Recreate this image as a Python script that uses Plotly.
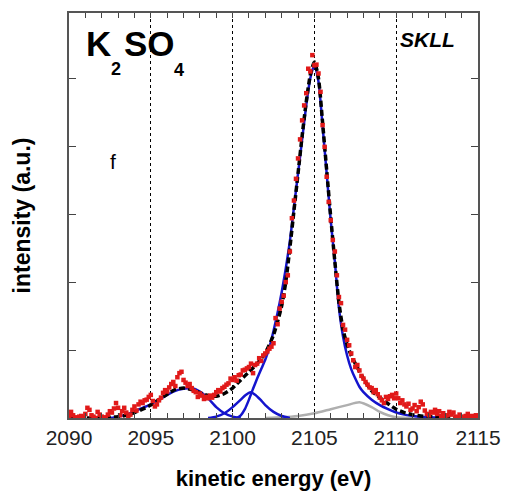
import numpy as np
import plotly.graph_objects as go

# ---------------- data ----------------
energy_data = np.round(np.arange(2090.0, 2115.0001, 0.125), 3)
intensity_data = [
    0.03, 0.09, 0.04, 0.01, 0.00, 0.02, 0.03, 0.01,   # 2090
    0.06, 0.15, 0.12, 0.04, 0.02, 0.00, 0.09, 0.05,   # 2091
    0.02, 0.00, 0.01, 0.05, 0.10, 0.08, 0.14, 0.22,   # 2092
    0.15, 0.04, 0.10, 0.15, 0.08, 0.02, 0.05, 0.12,   # 2093
    0.17, 0.11, 0.20, 0.24, 0.22, 0.26, 0.27, 0.31,   # 2094
    0.34, 0.25, 0.17, 0.20, 0.26, 0.30, 0.37, 0.41,   # 2095
    0.39, 0.45, 0.50, 0.53, 0.47, 0.60, 0.66, 0.68,   # 2096
    0.56, 0.52, 0.47, 0.50, 0.44, 0.40, 0.38, 0.31,   # 2097
    0.36, 0.33, 0.28, 0.31, 0.29, 0.33, 0.30, 0.34,   # 2098
    0.38, 0.41, 0.39, 0.44, 0.46, 0.49, 0.51, 0.58,   # 2099
    0.56, 0.60, 0.55, 0.63, 0.64, 0.70, 0.71, 0.73,   # 2100
    0.75, 0.80, 0.66, 0.78, 0.80, 0.88, 0.84, 0.92,   # 2101
    0.95, 0.98, 1.02, 1.05, 1.10, 1.47, 1.38, 1.61,   # 2102
    1.71, 1.80, 2.00, 2.10, 2.45, 2.94, 3.20, 3.52,   # 2103
    3.82, 4.10, 4.38, 4.60, 4.78, 5.14, 5.10, 5.34,   # 2104
    5.19, 5.20, 5.07, 4.80, 4.31, 3.99, 3.55, 3.18,   # 2105
    2.91, 2.62, 2.45, 2.10, 1.78, 1.69, 1.37, 1.30,   # 2106
    1.15, 1.07, 0.95, 0.85, 0.75, 0.78, 0.70, 0.62,   # 2107
    0.58, 0.53, 0.49, 0.45, 0.44, 0.38, 0.41, 0.35,   # 2108
    0.30, 0.26, 0.22, 0.31, 0.28, 0.32, 0.34, 0.29,   # 2109
    0.36, 0.29, 0.22, 0.26, 0.20, 0.17, 0.21, 0.12,   # 2110
    0.14, 0.19, 0.10, 0.16, 0.24, 0.20, 0.11, 0.06,   # 2111
    0.04, 0.09, 0.08, 0.12, 0.06, 0.10, 0.03, 0.07,   # 2112
    0.02, 0.04, 0.09, 0.05, 0.08, 0.02, 0.01, 0.05,   # 2113
    0.02, 0.00, 0.03, 0.06, 0.02, 0.03, 0.01, 0.04,   # 2114
    0.01,                                             # 2115
]

peak1_x = [2092.5, 2093.0, 2093.5, 2094.0, 2094.5, 2095.0, 2095.5, 2096.0, 2096.5,
           2097.0, 2097.5, 2098.0, 2098.5, 2099.0, 2099.5, 2100.0, 2100.5]
peak1_y = [0.00, 0.02, 0.05, 0.10, 0.15, 0.20, 0.27, 0.34, 0.40,
           0.43, 0.44, 0.39, 0.29, 0.16, 0.07, 0.02, 0.00]

peak2_x = [2098.5, 2099.0, 2099.5, 2100.0, 2100.5, 2100.8, 2101.1, 2101.4, 2101.7, 2102.0, 2102.5, 2103.0, 2103.5]
peak2_y = [0.00, 0.02, 0.07, 0.16, 0.27, 0.34, 0.38, 0.34, 0.27, 0.19, 0.09, 0.03, 0.00]

main_x = [2100.25, 2100.5, 2100.75, 2101.0, 2101.25, 2101.5, 2101.75, 2102.0, 2102.25, 2102.5, 2102.75,
          2103.0, 2103.25, 2103.5, 2103.75, 2104.0, 2104.25, 2104.5, 2104.75, 2105.0, 2105.25,
          2105.5, 2105.75, 2106.0, 2106.25, 2106.5, 2106.75, 2107.0, 2107.25, 2107.5, 2107.75,
          2108.0, 2108.5, 2109.0, 2109.5, 2110.0, 2110.5, 2111.0, 2112.0, 2113.0]
main_y = [0.00, 0.04, 0.13, 0.27, 0.43, 0.58, 0.72, 0.86, 1.04, 1.28, 1.55,
          1.85, 2.20, 2.60, 3.10, 3.60, 4.10, 4.60, 5.00, 5.20, 4.95,
          4.30, 3.60, 2.90, 2.30, 1.62, 1.20, 0.92, 0.72, 0.58, 0.46,
          0.38, 0.27, 0.19, 0.13, 0.08, 0.05, 0.03, 0.01, 0.00]

gray_x = [2102.0, 2103.0, 2104.0, 2105.0, 2106.0, 2107.0, 2107.75, 2108.5, 2109.0, 2109.5, 2110.0, 2111.0]
gray_y = [0.00, 0.01, 0.03, 0.07, 0.13, 0.19, 0.23, 0.16, 0.09, 0.04, 0.01, 0.00]

total_x = [2090.0, 2091.0, 2092.0, 2092.5, 2093.0, 2093.5, 2094.0, 2094.5, 2095.0, 2095.5,
           2096.0, 2096.5, 2097.0, 2097.5, 2098.0, 2098.5, 2099.0, 2099.5, 2100.0, 2100.5,
           2101.0, 2101.5, 2102.0, 2102.5, 2103.0, 2103.25, 2103.5, 2103.75, 2104.0, 2104.25,
           2104.5, 2104.75, 2105.0, 2105.25, 2105.5, 2105.75, 2106.0, 2106.25, 2106.5, 2106.75,
           2107.0, 2107.25, 2107.5, 2108.0, 2108.5, 2109.0, 2109.5, 2110.0, 2110.5, 2111.0,
           2111.5, 2112.0, 2113.0, 2114.0, 2115.0]
total_y = [0.01, 0.00, 0.00, 0.01, 0.02, 0.04, 0.08, 0.13, 0.19, 0.27,
           0.35, 0.42, 0.44, 0.42, 0.37, 0.33, 0.32, 0.36, 0.44, 0.56,
           0.68, 0.80, 0.96, 1.22, 1.65, 2.00, 2.50, 3.05, 3.60, 4.15,
           4.65, 5.05, 5.24, 5.00, 4.35, 3.65, 2.95, 2.30, 1.70, 1.30,
           1.08, 0.92, 0.80, 0.58, 0.40, 0.30, 0.21, 0.13, 0.08, 0.05,
           0.03, 0.02, 0.01, 0.00, 0.00]

x_tick_vals = [2090, 2095, 2100, 2105, 2110, 2115]
x_tick_text = ["2090", "2095", "2100", "2105", "2110", "2115"]
y_tick_vals = [1, 2, 3, 4, 5]

# ---------------- figure ----------------
BLUE = "rgb(20,20,205)"
GRAY = "rgb(175,175,175)"
RED = "rgb(225,25,25)"
FONT = "Arial, 'Liberation Sans', sans-serif"

fig = go.Figure()
fig.add_trace(go.Scatter(x=gray_x, y=gray_y, mode="lines",
                         line=dict(color=GRAY, width=2.5, shape="spline", smoothing=0.6)))
fig.add_trace(go.Scatter(x=peak1_x, y=peak1_y, mode="lines",
                         line=dict(color=BLUE, width=2.5, shape="spline", smoothing=0.6)))
fig.add_trace(go.Scatter(x=peak2_x, y=peak2_y, mode="lines",
                         line=dict(color=BLUE, width=2.5, shape="spline", smoothing=0.6)))
fig.add_trace(go.Scatter(x=main_x, y=main_y, mode="lines",
                         line=dict(color=BLUE, width=2.5, shape="spline", smoothing=0.6)))
fig.add_trace(go.Scatter(x=total_x, y=total_y, mode="lines",
                         line=dict(color="black", width=3.5, dash="6px,3px", shape="spline", smoothing=0.6)))
fig.add_trace(go.Scatter(x=energy_data, y=intensity_data, mode="markers",
                         marker=dict(symbol="square", size=4.5, color=RED, line=dict(width=0))))

L, R, T, B = 69, 478, 13, 418
W, H = 508, 495

def px(xp):
    return (xp - L) / (R - L)

def py(yp):
    return (B - yp) / (B - T)

anns = [
    dict(text="<b>K</b>", x=px(84), y=py(44), size=35, xanchor="left"),
    dict(text="<b>2</b>", x=px(109), y=py(69), size=18, xanchor="left"),
    dict(text="<b>SO</b>", x=px(122), y=py(44), size=35, xanchor="left"),
    dict(text="<b>4</b>", x=px(172), y=py(70), size=18, xanchor="left"),
    dict(text="f", x=px(113), y=py(161), size=21, xanchor="center"),
    dict(text="<b><i>SKLL</i></b>", x=px(427), y=py(40), size=21, xanchor="center"),
]
for a in anns:
    fig.add_annotation(text=a["text"], x=a["x"], y=a["y"], xref="paper", yref="paper",
                       xanchor=a["xanchor"], yanchor="middle", showarrow=False,
                       font=dict(family=FONT, size=a["size"], color="black"))

fig.update_layout(
    width=W, height=H,
    margin=dict(l=L, r=W - R, t=T, b=H - B),
    paper_bgcolor="white", plot_bgcolor="white",
    showlegend=False,
    font=dict(family=FONT, color="black"),
)
fig.update_xaxes(
    range=[2090, 2115], tickvals=x_tick_vals, ticktext=x_tick_text,
    ticks="inside", ticklen=5, tickcolor="#444", tickwidth=1,
    minor=dict(dtick=1, ticks="inside", ticklen=5, tickcolor="#444", showgrid=False),
    showline=True, linecolor="#555", linewidth=1.5, mirror="allticks",
    showgrid=True, gridcolor="black", gridwidth=1, griddash="dot",
    tickfont=dict(family=FONT, size=21, color="#222"),
    title=dict(text="<b>kinetic energy (eV)</b>", font=dict(family=FONT, size=22, color="black"), standoff=23),
    zeroline=False, automargin=False,
)
fig.update_yaxes(
    range=[0, 5.96], tickvals=y_tick_vals, showticklabels=False,
    ticks="inside", ticklen=7, tickcolor="#444", tickwidth=1,
    showline=True, linecolor="#555", linewidth=1.5, mirror="allticks",
    showgrid=False, zeroline=False, automargin=False,
    title=dict(text="<b>intensity (a.u.)</b>", font=dict(family=FONT, size=23, color="black"), standoff=30),
)

fig.write_html("out.html")
